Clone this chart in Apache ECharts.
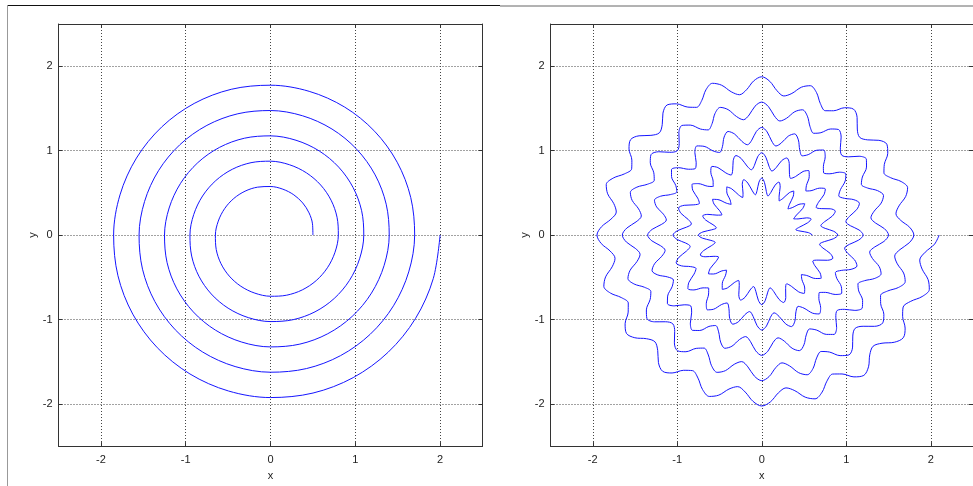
<!DOCTYPE html>
<html><head><meta charset="utf-8">
<script src="https://cdn.jsdelivr.net/npm/echarts@6/dist/echarts.min.js"></script>
<style>html,body{margin:0;padding:0;background:#fff}#c{width:973px;height:486px}</style>
</head><body><div id="c"></div>
<script>
// Axis range shared by both panels (ticks at -2..2)
const axisRange = [-2.5, 2.5];
const axisNames = ['x', 'y'];

// Left panel: plain spiral, radius read every 15 degrees
const leftAngles = [
0,15,30,45,60,75,90,105,120,135,150,165,180,195,210,225,240,255,270,285,300,315,330,345,
360,375,390,405,420,435,450,465,480,495,510,525,540,555,570,585,600,615,630,645,660,675,690,705,
720,735,750,765,780,795,810,825,840,855,870,885,900,915,930,945,960,975,990,1005,1020,1035,1050,1065,
1080,1095,1110,1125,1140,1155,1170,1185,1200,1215,1230,1245,1260,1275,1290,1305,1320,1335,1350,1365,1380,1395,1410,1425,
1440,1455,1470,1485,1500,1515,1530,1545,1560,1575,1590,1605,1620,1635,1650,1665,1680,1695,1710,1725,1740,1755,1770,1785,
1800];
const leftRadii = [
0.5,0.5125,0.525,0.5375,0.55,0.5625,0.575,0.5875,0.6,0.6125,0.625,0.6375,0.65,0.6625,0.675,0.6875,0.7,0.7125,0.725,0.7375,0.75,0.7625,0.775,0.7875,
0.8,0.8125,0.825,0.8375,0.85,0.8625,0.875,0.8875,0.9,0.9125,0.925,0.9375,0.95,0.9625,0.975,0.9875,1.0,1.0125,1.025,1.0375,1.05,1.0625,1.075,1.0875,
1.1,1.1125,1.125,1.1375,1.15,1.1625,1.175,1.1875,1.2,1.2125,1.225,1.2375,1.25,1.2625,1.275,1.2875,1.3,1.3125,1.325,1.3375,1.35,1.3625,1.375,1.3875,
1.4,1.4125,1.425,1.4375,1.45,1.4625,1.475,1.4875,1.5,1.5125,1.525,1.5375,1.55,1.5625,1.575,1.5875,1.6,1.6125,1.625,1.6375,1.65,1.6625,1.675,1.6875,
1.7,1.7125,1.725,1.7375,1.75,1.7625,1.775,1.7875,1.8,1.8125,1.825,1.8375,1.85,1.8625,1.875,1.8875,1.9,1.9125,1.925,1.9375,1.95,1.9625,1.975,1.9875,
2.0];

// Right panel: wavy spiral, radius read every 3 degrees (six readings per ripple)
const rightAngles = [
0,3,6,9,12,15,18,21,24,27,30,33,36,39,42,45,48,51,54,57,60,63,66,69,72,75,78,81,84,87,90,93,96,99,102,105,108,111,114,117,120,123,126,129,132,135,138,141,144,147,150,153,156,159,162,165,168,171,174,177,
180,183,186,189,192,195,198,201,204,207,210,213,216,219,222,225,228,231,234,237,240,243,246,249,252,255,258,261,264,267,270,273,276,279,282,285,288,291,294,297,300,303,306,309,312,315,318,321,324,327,330,333,336,339,342,345,348,351,354,357,
360,363,366,369,372,375,378,381,384,387,390,393,396,399,402,405,408,411,414,417,420,423,426,429,432,435,438,441,444,447,450,453,456,459,462,465,468,471,474,477,480,483,486,489,492,495,498,501,504,507,510,513,516,519,522,525,528,531,534,537,
540,543,546,549,552,555,558,561,564,567,570,573,576,579,582,585,588,591,594,597,600,603,606,609,612,615,618,621,624,627,630,633,636,639,642,645,648,651,654,657,660,663,666,669,672,675,678,681,684,687,690,693,696,699,702,705,708,711,714,717,
720,723,726,729,732,735,738,741,744,747,750,753,756,759,762,765,768,771,774,777,780,783,786,789,792,795,798,801,804,807,810,813,816,819,822,825,828,831,834,837,840,843,846,849,852,855,858,861,864,867,870,873,876,879,882,885,888,891,894,897,
900,903,906,909,912,915,918,921,924,927,930,933,936,939,942,945,948,951,954,957,960,963,966,969,972,975,978,981,984,987,990,993,996,999,1002,1005,1008,1011,1014,1017,1020,1023,1026,1029,1032,1035,1038,1041,1044,1047,1050,1053,1056,1059,1062,1065,1068,1071,1074,1077,
1080,1083,1086,1089,1092,1095,1098,1101,1104,1107,1110,1113,1116,1119,1122,1125,1128,1131,1134,1137,1140,1143,1146,1149,1152,1155,1158,1161,1164,1167,1170,1173,1176,1179,1182,1185,1188,1191,1194,1197,1200,1203,1206,1209,1212,1215,1218,1221,1224,1227,1230,1233,1236,1239,1242,1245,1248,1251,1254,1257,
1260,1263,1266,1269,1272,1275,1278,1281,1284,1287,1290,1293,1296,1299,1302,1305,1308,1311,1314,1317,1320,1323,1326,1329,1332,1335,1338,1341,1344,1347,1350,1353,1356,1359,1362,1365,1368,1371,1374,1377,1380,1383,1386,1389,1392,1395,1398,1401,1404,1407,1410,1413,1416,1419,1422,1425,1428,1431,1434,1437,
1440,1443,1446,1449,1452,1455,1458,1461,1464,1467,1470,1473,1476,1479,1482,1485,1488,1491,1494,1497,1500,1503,1506,1509,1512,1515,1518,1521,1524,1527,1530,1533,1536,1539,1542,1545,1548,1551,1554,1557,1560,1563,1566,1569,1572,1575,1578,1581,1584,1587,1590,1593,1596,1599,1602,1605,1608,1611,1614,1617,
1620,1623,1626,1629,1632,1635,1638,1641,1644,1647,1650,1653,1656,1659,1662,1665,1668,1671,1674,1677,1680,1683,1686,1689,1692,1695,1698,1701,1704,1707,1710,1713,1716,1719,1722,1725,1728,1731,1734,1737,1740,1743,1746,1749,1752,1755,1758,1761,1764,1767,1770,1773,1776,1779,1782,1785,1788,1791,1794,1797,
1800];
const rightRadii = [
0.600,0.553,0.455,0.408,0.460,0.563, 0.615,0.568,0.470,0.423,0.475,0.578, 0.630,0.583,0.485,0.438,0.490,0.593, 0.645,0.598,0.500,0.453,0.505,0.608, 0.660,0.613,0.515,0.468,0.520,0.623,
0.675,0.628,0.530,0.483,0.535,0.638, 0.690,0.643,0.545,0.498,0.550,0.653, 0.705,0.658,0.560,0.513,0.565,0.668, 0.720,0.673,0.575,0.528,0.580,0.683, 0.735,0.688,0.590,0.543,0.595,0.698,
0.750,0.703,0.605,0.558,0.610,0.713, 0.765,0.718,0.620,0.573,0.625,0.728, 0.780,0.733,0.635,0.588,0.640,0.743, 0.795,0.748,0.650,0.603,0.655,0.758, 0.810,0.763,0.665,0.618,0.670,0.773,
0.825,0.778,0.680,0.633,0.685,0.788, 0.840,0.793,0.695,0.648,0.700,0.803, 0.855,0.808,0.710,0.663,0.715,0.818, 0.870,0.823,0.725,0.678,0.730,0.833, 0.885,0.838,0.740,0.693,0.745,0.848,
0.900,0.853,0.755,0.708,0.760,0.863, 0.915,0.868,0.770,0.723,0.775,0.878, 0.930,0.883,0.785,0.738,0.790,0.893, 0.945,0.898,0.800,0.753,0.805,0.908, 0.960,0.913,0.815,0.768,0.820,0.923,
0.975,0.928,0.830,0.783,0.835,0.938, 0.990,0.943,0.845,0.798,0.850,0.953, 1.005,0.958,0.860,0.813,0.865,0.968, 1.020,0.973,0.875,0.828,0.880,0.983, 1.035,0.988,0.890,0.843,0.895,0.998,
1.050,1.003,0.905,0.858,0.910,1.013, 1.065,1.018,0.920,0.873,0.925,1.028, 1.080,1.033,0.935,0.888,0.940,1.043, 1.095,1.048,0.950,0.903,0.955,1.058, 1.110,1.063,0.965,0.918,0.970,1.073,
1.125,1.078,0.980,0.933,0.985,1.088, 1.140,1.093,0.995,0.948,1.000,1.103, 1.155,1.108,1.010,0.963,1.015,1.118, 1.170,1.123,1.025,0.978,1.030,1.133, 1.185,1.138,1.040,0.993,1.045,1.148,
1.200,1.153,1.055,1.008,1.060,1.163, 1.215,1.168,1.070,1.023,1.075,1.178, 1.230,1.183,1.085,1.038,1.090,1.193, 1.245,1.198,1.100,1.053,1.105,1.208, 1.260,1.213,1.115,1.068,1.120,1.223,
1.275,1.228,1.130,1.083,1.135,1.238, 1.290,1.243,1.145,1.098,1.150,1.253, 1.305,1.258,1.160,1.113,1.165,1.268, 1.320,1.273,1.175,1.128,1.180,1.283, 1.335,1.288,1.190,1.143,1.195,1.298,
1.350,1.303,1.205,1.158,1.210,1.313, 1.365,1.318,1.220,1.173,1.225,1.328, 1.380,1.333,1.235,1.188,1.240,1.343, 1.395,1.348,1.250,1.203,1.255,1.358, 1.410,1.363,1.265,1.218,1.270,1.373,
1.425,1.378,1.280,1.233,1.285,1.388, 1.440,1.393,1.295,1.248,1.300,1.403, 1.455,1.408,1.310,1.263,1.315,1.418, 1.470,1.423,1.325,1.278,1.330,1.433, 1.485,1.438,1.340,1.293,1.345,1.448,
1.500,1.453,1.355,1.308,1.360,1.463, 1.515,1.468,1.370,1.323,1.375,1.478, 1.530,1.483,1.385,1.338,1.390,1.493, 1.545,1.498,1.400,1.353,1.405,1.508, 1.560,1.513,1.415,1.368,1.420,1.523,
1.575,1.528,1.430,1.383,1.435,1.538, 1.590,1.543,1.445,1.398,1.450,1.553, 1.605,1.558,1.460,1.413,1.465,1.568, 1.620,1.573,1.475,1.428,1.480,1.583, 1.635,1.588,1.490,1.443,1.495,1.598,
1.650,1.603,1.505,1.458,1.510,1.613, 1.665,1.618,1.520,1.473,1.525,1.628, 1.680,1.633,1.535,1.488,1.540,1.643, 1.695,1.648,1.550,1.503,1.555,1.658, 1.710,1.663,1.565,1.518,1.570,1.673,
1.725,1.678,1.580,1.533,1.585,1.688, 1.740,1.693,1.595,1.548,1.600,1.703, 1.755,1.708,1.610,1.563,1.615,1.718, 1.770,1.723,1.625,1.578,1.630,1.733, 1.785,1.738,1.640,1.593,1.645,1.748,
1.800,1.753,1.655,1.608,1.660,1.763, 1.815,1.768,1.670,1.623,1.675,1.778, 1.830,1.783,1.685,1.638,1.690,1.793, 1.845,1.798,1.700,1.653,1.705,1.808, 1.860,1.813,1.715,1.668,1.720,1.823,
1.875,1.828,1.730,1.683,1.735,1.838, 1.890,1.843,1.745,1.698,1.750,1.853, 1.905,1.858,1.760,1.713,1.765,1.868, 1.920,1.873,1.775,1.728,1.780,1.883, 1.935,1.888,1.790,1.743,1.795,1.898,
1.950,1.903,1.805,1.758,1.810,1.913, 1.965,1.918,1.820,1.773,1.825,1.928, 1.980,1.933,1.835,1.788,1.840,1.943, 1.995,1.948,1.850,1.803,1.855,1.958, 2.010,1.963,1.865,1.818,1.870,1.973,
2.025,1.978,1.880,1.833,1.885,1.988, 2.040,1.993,1.895,1.848,1.900,2.003, 2.055,2.008,1.910,1.863,1.915,2.018, 2.070,2.023,1.925,1.878,1.930,2.033, 2.085,2.038,1.940,1.893,1.945,2.048,
2.100];

function toXY(angles, radii) {
  const n = Math.min(angles.length, radii.length);
  const out = [];
  for (let i = 0; i < n; i++) {
    const a = angles[i] * Math.PI / 180;
    out.push([radii[i] * Math.cos(a), radii[i] * Math.sin(a)]);
  }
  return out;
}

const FONT = 'Liberation Sans';
const AX = '#333';
function xAxes(gi) {
  const base = {
    type: 'value', gridIndex: gi, min: axisRange[0], max: axisRange[1], splitNumber: 5,
    axisLine: { show: true, onZero: false, lineStyle: { color: AX, width: 1 } },
    axisTick: { show: true, inside: true, length: 4, lineStyle: { color: AX } },
  };
  return [
    Object.assign({}, base, {
      position: 'bottom', name: axisNames[0], nameLocation: 'middle', nameGap: 20,
      nameTextStyle: { fontFamily: FONT, fontSize: 11, color: '#222' },
      axisLabel: { show: true, margin: 8, fontFamily: FONT, fontSize: 11, color: '#222', showMinLabel: false, showMaxLabel: false },
      splitLine: { show: true, lineStyle: { color: '#444', width: 1, type: [1, 2] } }
    }),
    Object.assign({}, base, {
      position: 'top', axisLabel: { show: false }, splitLine: { show: false }
    })
  ];
}
function yAxes(gi) {
  const base = {
    type: 'value', gridIndex: gi, min: axisRange[0], max: axisRange[1], splitNumber: 5,
    axisLine: { show: true, onZero: false, lineStyle: { color: AX, width: 1 } },
    axisTick: { show: true, inside: true, length: 4, lineStyle: { color: AX } },
  };
  return [
    Object.assign({}, base, {
      position: 'left', name: axisNames[1], nameLocation: 'middle', nameGap: 20,
      nameTextStyle: { fontFamily: FONT, fontSize: 11, color: '#222' },
      axisLabel: { show: true, margin: 6, fontFamily: FONT, fontSize: 11, color: '#222', showMinLabel: false, showMaxLabel: false },
      splitLine: { show: true, lineStyle: { color: '#444', width: 1, type: [1, 2] } }
    }),
    Object.assign({}, base, {
      position: 'right', axisLabel: { show: false }, splitLine: { show: false }
    })
  ];
}

const chart = echarts.init(document.getElementById('c'), null, { renderer: 'canvas' });
chart.setOption({
  animation: false,
  backgroundColor: '#fff',
  grid: [
    { left: 58.5, top: 24, width: 424, height: 423 },
    { left: 550.5, top: 24, width: 424, height: 423 }
  ],
  xAxis: xAxes(0).concat(xAxes(1)),
  yAxis: yAxes(0).concat(yAxes(1)),
  graphic: [
    { type: 'line', shape: { x1: 7, y1: 5.5, x2: 500, y2: 5.5 }, style: { stroke: '#111', lineWidth: 1 } },
    { type: 'line', shape: { x1: 500, y1: 6, x2: 973, y2: 6 }, style: { stroke: '#666', lineWidth: 1 } },
    { type: 'line', shape: { x1: 7.5, y1: 5, x2: 7.5, y2: 486 }, style: { stroke: '#999', lineWidth: 1 } }
  ],
  series: [
    { type: 'line', xAxisIndex: 0, yAxisIndex: 0, data: toXY(leftAngles, leftRadii),
      showSymbol: false, smooth: 0.3333, clip: false, lineStyle: { color: '#1515ff', width: 1 }, silent: true },
    { type: 'line', xAxisIndex: 2, yAxisIndex: 2, data: toXY(rightAngles, rightRadii),
      showSymbol: false, smooth: 0.3333, clip: false, lineStyle: { color: '#1515ff', width: 1 }, silent: true }
  ]
});
</script>
</body></html>
